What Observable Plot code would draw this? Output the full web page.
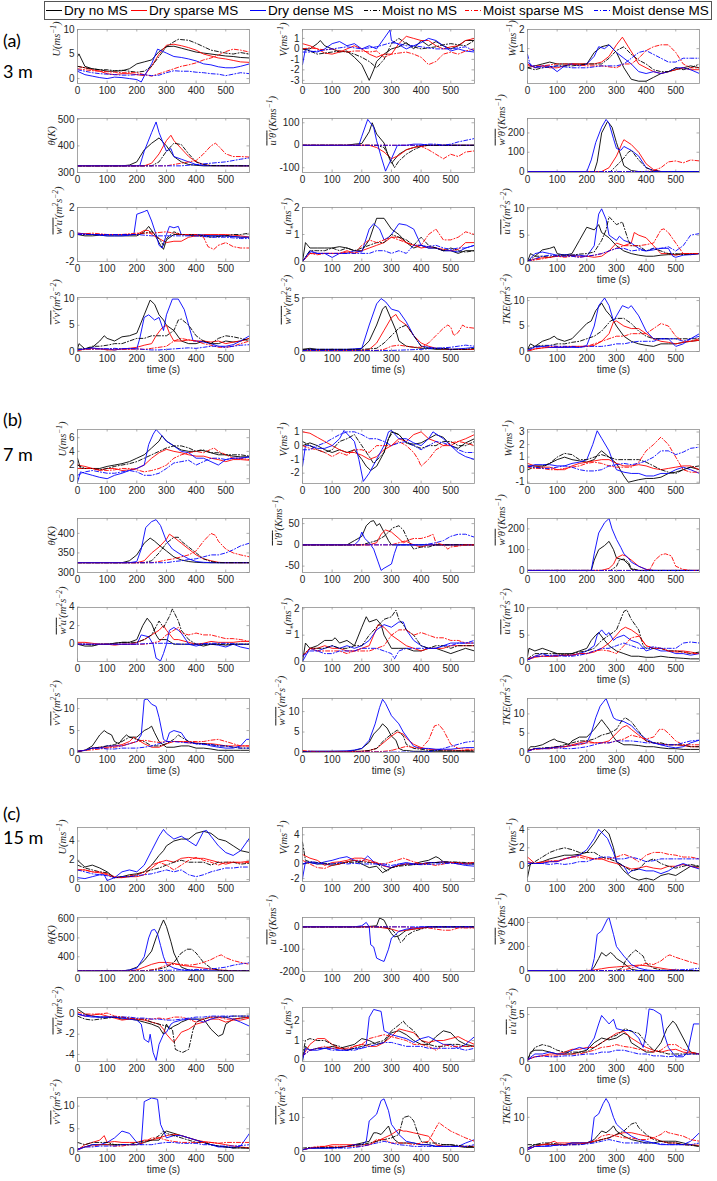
<!DOCTYPE html>
<html><head><meta charset="utf-8">
<script src="https://cdn.jsdelivr.net/npm/d3@7"></script>
<script src="https://cdn.jsdelivr.net/npm/@observablehq/plot@0.6"></script>
<style>
body{margin:0;background:#fff;}
#root{position:relative;width:717px;height:1181px;overflow:hidden;background:#fff;font-family:"Liberation Sans",Arial,sans-serif;}
.panel{position:absolute;}
.grp{position:absolute;left:3px;font-family:Lato,"Open Sans",sans-serif;font-size:18px;line-height:18px;color:#000;white-space:nowrap;}
#legend{position:absolute;left:44px;top:1px;width:668px;height:19px;border:1px solid #555;box-sizing:border-box;background:#fff;}
.li{position:absolute;top:0px;height:17px;font-size:13.5px;line-height:17px;white-space:nowrap;color:#000;}
.li svg{position:absolute;left:-18px;top:0;}
</style></head><body><div id="root"></div>
<script>
// ---------- series (order: Dry no MS, Dry sparse MS, Dry dense MS, Moist no MS, Moist sparse MS, Moist dense MS)
const seriesNames = ["Dry no MS","Dry sparse MS","Dry dense MS","Moist no MS","Moist sparse MS","Moist dense MS"];
const seriesColors = ["#000000","#ff0000","#0000ff","#000000","#ff0000","#0000ff"];
const seriesDash = [null,null,null,"4,2,1,2","4,2,1,2","4,2,1,2"];
const xTicks = [0,100,200,300,400,500];
const varLabels = ["U(ms^{-1})","V(ms^{-1})","W(ms^{-1})","θ(K)","[u'θ'](Kms^{-1})","[w'θ'](Kms^{-1})","[w'u'](m^2s^{-2})","u_*(ms^{-1})","[u'u'](m^2s^{-2})","[v'v'](m^2s^{-2})","[w'w'](m^2s^{-2})","TKE(m^2s^{-2})"];
const groupLetters = ["(a)","(b)","(c)"];
const groupHeights = ["3 m","7 m","15 m"];

// each series: flat list of time, value pairs
// ===== (a) 3 m =====
const a_U = [
 [0,4.5,5,5,25,2.5,50,2.0,75,1.8,100,1.5,125,1.5,150,1.6,175,2.0,200,3.0,225,3.4,250,3.8,275,5.5,300,6.5,325,6.6,350,6.2,375,5.8,400,5.4,425,5.2,450,5.0,475,4.8,500,4.6,525,4.5,550,4.3,580,4.2],
 [0,2.5,25,2.2,50,1.8,75,1.5,100,1.0,125,0.8,150,1.0,175,1.0,200,0.8,225,0.6,250,2.5,275,5.0,300,6.8,325,7.0,350,6.7,375,6.3,400,5.8,425,5.0,450,4.6,475,4.2,500,4.0,525,3.7,550,3.4,580,3.3],
 [0,1.5,25,0.8,50,0.5,75,0.2,100,0.0,125,0.3,150,0.2,175,0.0,200,-0.2,215,-0.7,225,0.5,250,3.0,270,6.0,300,5.2,325,4.5,350,4.3,375,4.0,400,3.6,425,3.0,450,2.8,475,2.4,500,2.2,525,2.2,550,2.5,580,3.0],
 [0,2.5,25,2.2,50,2.0,75,1.8,100,1.8,125,1.6,150,1.7,175,1.5,200,1.3,225,1.5,250,2.5,275,4.5,300,6.5,325,7.5,340,8.0,375,7.8,400,7.2,425,6.5,450,5.8,475,5.5,500,5.2,525,5.0,550,5.3,580,5.0],
 [0,2.0,25,1.8,50,1.6,75,1.5,100,1.4,125,1.3,150,1.2,175,1.2,200,1.2,225,0.8,250,0.5,275,1.0,300,1.5,325,2.0,350,2.5,375,2.8,400,3.2,425,3.8,450,4.2,475,4.8,500,5.5,525,6.0,550,5.8,580,5.4],
 [0,1.8,25,1.5,50,1.2,75,1.0,100,0.9,125,0.8,150,0.7,175,0.7,200,0.8,225,0.8,250,0.6,275,0.7,300,1.2,325,1.6,350,1.5,375,1.5,400,1.3,425,1.2,450,1.0,475,0.9,500,0.6,525,0.9,550,1.2,580,1.0]];
const a_V = [
 [0,0,25,0,50,0.5,60,0.8,75,0.3,100,0,125,-0.3,150,-0.2,175,-0.8,200,-1.5,225,-3.0,240,-2.0,250,-1.2,275,-0.5,300,0,325,0.2,350,0.6,375,0,400,0.8,425,0.3,450,0.7,475,0.3,500,0,525,0.3,550,0.8,580,0.8],
 [0,0.5,25,0.3,50,0,75,-0.4,100,-0.5,125,-0.3,150,0,175,0.3,200,0,225,-0.5,250,-0.8,275,-0.5,300,-0.5,325,0.5,350,1.2,375,1.0,400,0.8,425,0.8,450,0.3,475,0,500,0.2,525,0.3,550,0.8,580,1.0],
 [0,-1.5,10,0,25,-0.2,50,-0.3,75,0,100,0.5,125,0.7,150,0.3,175,0.5,200,0,225,0.3,250,0,275,1.0,295,1.8,300,0.8,325,0.4,350,0,375,0.3,400,0.6,425,1.0,450,0.8,475,0.3,500,-0.2,525,0,550,-0.2,580,-0.3],
 [0,0,25,-0.2,50,-0.5,75,-0.4,100,-0.3,125,-0.2,150,-0.3,175,-0.5,200,-0.8,225,-1.2,250,-1.8,275,-1.0,300,0.5,325,1.0,350,0.5,375,0.2,400,0,425,0.1,450,0.2,475,0.4,500,0.5,525,0.4,550,0.3,580,0.8],
 [0,0,25,0.1,50,0,75,-0.1,100,0,125,-0.2,150,-0.3,175,-0.2,200,-0.2,225,-0.3,250,-0.2,275,-0.8,300,-0.5,325,-0.4,350,-0.3,375,-0.5,400,-0.8,425,-1.5,450,-1.2,475,-0.5,500,-0.3,525,-0.5,550,-0.2,580,0],
 [0,-0.3,25,-0.3,50,-0.2,75,-0.1,100,0,125,0.1,150,0.2,175,0.1,200,0,225,0.1,250,0.2,275,0.4,300,0.6,325,0.5,350,0.3,375,0.3,400,0.2,425,0.1,450,0,475,0,500,0,525,0.1,550,0.2,580,-0.2]];
const a_W = [
 [0,0,25,0.1,50,0.2,75,0.3,100,0.2,125,0.2,150,0.2,175,0.2,200,0.2,225,0.8,250,1.1,275,1.2,300,0.8,325,0,350,-0.6,375,-0.7,400,-0.7,425,-0.5,450,-0.3,475,-0.2,500,-0.1,525,0,550,0.1,580,0],
 [0,0.2,25,0,50,0.1,75,0,100,0,125,0.1,150,0.2,175,0.2,200,0.2,225,0.2,250,0.3,275,0.6,300,1.2,320,1.6,340,1.1,360,0.6,375,0.2,400,0,425,-0.2,450,-0.3,475,-0.2,500,-0.1,525,0,550,-0.1,580,-0.1],
 [0,0.3,25,0,50,0.1,75,0.1,100,-0.2,125,0.1,150,0.2,175,0.1,200,0.2,225,0.6,240,1.1,260,1.0,275,1.2,300,0.8,325,0.5,350,0.2,375,-0.2,400,-0.3,425,-0.2,450,-0.3,475,-0.2,500,0,525,0,550,-0.1,580,-0.3],
 [0,0,25,-0.1,50,0,75,0.05,100,0.1,125,0.1,150,0.1,175,0.15,200,0.2,225,0.2,250,0.2,275,0.5,300,0.9,325,1.1,350,0.7,375,0.4,400,0.2,425,-0.1,450,-0.2,475,-0.2,500,0,525,-0.1,550,0,580,0.2],
 [0,0.1,25,0.1,50,0.1,75,0.15,100,0.2,125,0.2,150,0.2,175,0.15,200,0.1,225,0.1,250,0.1,275,0.05,300,0,325,0.2,350,0.2,375,0.5,400,0.9,425,1.1,450,1.2,475,1.2,500,0.8,525,0.2,550,0,580,0],
 [0,0.7,10,0.1,25,0.1,50,0,75,0.05,100,0.1,125,0.05,150,0,175,0,200,0,225,0.05,250,0.1,275,0.1,300,0.1,325,0.2,350,0.5,375,0.8,400,0.9,425,0.7,450,0.5,475,0.3,500,0.3,525,0.5,550,0.5,580,0.5]];
const a_T = [
 [0,325,150,325,175,328,200,340,225,385,250,410,275,430,300,400,325,360,350,340,375,330,400,327,425,325,580,325],
 [0,325,225,325,250,335,275,370,300,420,315,440,325,420,350,390,375,360,400,340,425,330,450,326,580,325],
 [0,325,210,325,225,380,250,450,265,490,275,450,300,380,315,390,325,360,350,350,375,340,400,330,425,326,580,325],
 [0,325,250,325,275,340,300,380,325,410,350,405,375,370,400,340,425,330,450,326,580,325],
 [0,325,300,325,325,330,350,335,375,340,400,345,425,370,450,400,465,410,475,400,500,370,525,360,550,360,580,358],
 [0,325,350,325,400,330,450,335,500,340,550,350,580,355]];
const a_UT = [
 [0,0,150,0,175,5,200,8,225,60,235,100,250,50,275,10,290,-50,300,-80,325,-40,350,-20,375,-10,400,0,580,0],
 [0,0,225,0,250,-10,275,-30,300,-60,325,-45,350,-20,375,-10,400,-5,425,0,580,0],
 [0,0,190,0,200,40,220,115,240,80,250,20,265,-50,280,-115,300,-60,320,0,350,0,375,5,400,5,425,0,580,0],
 [0,0,250,0,275,-10,300,-70,310,-100,325,-70,350,-40,375,-20,400,-5,425,0,580,0],
 [0,0,375,0,400,-5,425,-20,450,-40,475,-60,500,-40,525,-50,550,-30,580,-25],
 [0,0,400,0,425,5,450,5,475,0,500,5,525,15,580,30]];
const a_WT = [
 [0,0,225,0,235,50,250,200,270,260,285,230,300,150,315,80,325,30,350,5,375,0,580,0],
 [0,0,250,0,275,20,300,80,320,150,325,165,350,140,375,100,400,40,425,10,450,0,580,0],
 [0,0,200,0,215,60,230,150,250,230,265,270,275,250,290,170,300,120,315,110,325,130,350,110,375,80,400,20,425,5,450,0,580,0],
 [0,0,280,0,300,30,325,70,340,100,350,110,375,60,400,20,425,5,450,0,580,0],
 [0,0,400,0,425,5,450,20,475,50,500,55,525,45,550,60,580,55],
 [0,0,580,0]];
const a_WU = [
 [0,0,25,-0.1,50,-0.1,75,-0.05,100,-0.1,125,-0.1,150,-0.1,175,-0.1,200,-0.1,225,0.2,240,0.6,260,0,280,-0.8,290,-1.1,300,-0.4,325,0,350,0,375,-0.05,400,-0.1,425,-0.1,450,-0.1,475,-0.1,500,-0.1,525,-0.15,550,-0.2,580,-0.2],
 [0,0.1,25,0.05,50,0,75,0,100,0,125,0,150,0,175,0,200,0,225,0.3,240,0.3,250,0,275,-0.3,300,-0.6,325,-0.5,350,-0.5,375,-0.2,400,-0.1,425,0,450,0,475,0,500,0,525,-0.05,550,-0.1,580,-0.2],
 [0,0.1,25,0.05,50,0,75,-0.05,100,-0.1,125,-0.1,150,-0.1,175,-0.05,190,0,200,1.5,225,1.7,235,1.8,250,1.0,265,0,275,-0.8,285,-1.0,300,0,310,0.6,325,0.5,340,0.6,350,0,375,0,400,0,425,-0.05,450,-0.1,475,-0.1,500,-0.1,525,-0.15,550,-0.2,580,-0.2],
 [0,0,25,0,50,0,75,0,100,0,125,0,150,0,175,0,200,0,225,0.1,250,0.2,275,-0.3,290,-0.8,300,-0.3,325,0.2,350,0,375,0,400,0,425,-0.1,450,-0.2,475,-0.15,500,-0.1,525,0,550,0,580,0.1],
 [0,0,25,0.05,50,0.1,75,0.05,100,0,125,0,150,0,175,0.05,200,0.1,225,0.1,250,0.1,275,0.15,300,0.2,325,0.1,350,0,375,0,400,0,425,-0.2,440,-0.9,460,-1.1,475,-0.8,500,-0.6,525,-0.9,550,-1.0,580,-1.0],
 [0,0,50,0,100,0,150,0,200,0,250,-0.1,300,-0.1,350,-0.1,400,-0.1,450,-0.2,500,-0.2,550,-0.3,580,-0.3]];
const a_US = [
 [0,0,10,0.7,25,0.5,50,0.5,75,0.5,100,0.5,125,0.55,150,0.5,175,0.4,200,0.4,225,0.8,250,1.6,275,1.6,300,1.2,325,1.0,350,0.7,375,0.5,400,0.6,425,0.5,450,0.5,475,0.4,500,0.4,525,0.3,550,0.4,580,0.4],
 [0,0,25,0.3,50,0.3,75,0.3,100,0.3,125,0.3,150,0.4,175,0.3,200,0.4,225,0.5,250,0.6,275,0.7,300,0.9,325,0.9,350,0.7,375,0.6,400,0.5,425,0.55,450,0.5,475,0.45,500,0.4,525,0.45,550,0.7,580,0.7],
 [0,0,25,0.4,50,0.3,75,0.3,100,0.15,125,0.3,150,0.3,175,0.4,200,0.35,225,1.2,240,1.4,260,1.2,275,0.8,290,0.9,300,1.0,325,1.4,350,1.35,375,1.2,400,0.6,425,0.5,450,0.5,475,0.4,500,0.4,525,0.35,550,0.5,580,0.6],
 [0,0,25,0.4,50,0.4,75,0.4,100,0.5,125,0.4,150,0.5,175,0.4,200,0.5,225,0.6,250,0.7,275,0.7,300,1.0,325,0.9,350,0.8,375,0.6,400,0.9,425,0.6,450,0.5,475,0.4,500,0.5,525,0.4,550,0.35,580,0.4],
 [0,0,25,0.3,50,0.25,75,0.3,100,0.3,125,0.3,150,0.35,175,0.3,200,0.6,225,0.8,250,0.7,275,0.8,300,0.9,325,0.8,350,0.7,375,0.6,400,0.6,425,1.0,450,1.2,475,0.8,500,0.8,525,0.9,550,1.1,580,1.0],
 [0,0,25,0.35,50,0.3,75,0.3,100,0.3,125,0.3,150,0.3,175,0.3,200,0.3,225,0.3,250,0.4,275,0.4,300,0.3,325,0.4,350,0.3,375,0.6,400,0.6,425,0.55,450,0.6,475,0.5,500,0.45,525,0.5,550,0.5,580,0.6]];
const a_UU = [
 [0,0,10,1.5,25,1.0,50,2.2,75,2.5,90,2.8,100,1.5,125,1.2,150,1.5,175,4.0,200,6.5,225,6.0,240,7.0,250,5.5,275,4.5,300,3.0,325,2.0,350,1.5,375,1.2,400,1.0,425,1.0,450,1.2,475,1.3,500,1.3,525,1.5,550,1.3,580,1.5],
 [0,0,25,0.5,50,0.7,75,0.8,100,1.0,125,1.0,150,1.2,175,1.0,200,1.0,225,0.8,250,1.0,275,2.0,300,3.5,325,3.0,350,3.5,360,5.5,375,5.0,400,4.5,425,3.0,450,1.5,475,1.5,500,1.2,525,1.5,550,1.5,580,1.5],
 [0,0,25,1.5,50,1.8,75,1.5,100,1.2,125,1.3,150,1.2,175,1.2,200,1.0,225,3.0,240,9.0,250,10.0,265,8.0,275,5.0,300,4.0,310,4.8,325,4.0,350,3.5,375,2.5,400,2.0,425,2.2,450,2.5,475,2.5,490,1.0,500,0.8,525,1.2,550,1.3,580,1.5],
 [0,0,25,1.0,50,1.0,75,0.8,100,1.2,125,1.2,150,1.2,175,1.4,200,1.5,225,1.8,250,4.0,265,6.0,275,8.5,300,7.0,320,7.5,340,4.0,350,3.0,375,3.0,400,2.0,425,2.5,450,2.0,475,1.5,500,1.5,525,1.3,550,1.5,580,1.5],
 [0,0,25,0.3,50,0.5,75,0.8,100,1.0,125,0.8,150,1.0,175,0.8,200,1.0,225,1.2,250,1.5,275,2.0,300,2.5,325,3.0,350,3.0,375,3.0,400,3.2,425,3.5,450,6.0,460,6.2,475,5.5,500,3.5,525,1.5,550,1.5,580,1.5],
 [0,0,25,0.5,50,1.0,75,1.2,100,1.0,125,1.0,150,1.0,175,0.8,200,1.0,225,1.2,250,1.5,275,2.0,300,2.5,325,2.5,350,2.0,375,2.2,400,2.0,425,2.5,450,2.5,475,2.8,500,2.0,525,3.0,550,5.0,580,5.3]];
const a_VV = [
 [0,0.5,5,1.5,25,0.5,50,0.8,75,2.0,90,3.0,100,2.5,125,2.0,150,2.8,175,3.0,200,3.5,225,7.0,245,9.8,260,9.0,275,7.0,290,6.0,300,5.0,325,4.0,350,2.0,375,1.5,400,1.5,425,2.0,450,1.5,475,1.5,500,2.0,525,1.8,550,2.0,580,2.5],
 [0,0.2,25,0.5,50,0.6,75,0.5,100,0.3,125,0.3,150,0.5,175,0.6,200,0.8,225,1.2,250,1.5,265,3.0,285,4.5,300,5.0,310,3.5,325,2.0,350,2.0,375,2.2,400,2.0,425,2.0,450,1.8,475,2.0,500,1.5,525,1.8,550,2.0,580,2.5],
 [0,0.3,25,0.5,50,0.7,75,0.5,100,0.5,125,0.3,150,0.5,175,0.5,200,0.5,210,2.5,225,6.5,240,7.0,260,6.0,275,6.5,290,4.0,300,7.0,320,10.0,340,10.0,360,8.0,375,5.0,390,2.0,400,2.0,425,1.8,450,1.5,475,1.0,500,1.0,525,1.3,550,2.0,580,3.0],
 [0,0.5,25,0.5,50,1.0,75,1.0,100,1.2,125,1.5,150,1.5,175,2.0,200,2.5,225,2.5,250,3.0,275,3.0,300,3.0,325,4.0,340,6.0,350,6.2,375,5.0,400,3.0,425,2.0,450,1.5,475,2.5,500,3.0,525,2.8,550,2.5,580,2.0],
 [0,0.2,25,0.4,50,0.4,75,0.5,100,0.4,125,0.5,150,0.4,175,0.4,200,0.5,225,0.4,250,0.6,275,0.8,300,1.0,325,2.0,350,2.5,375,2.2,400,2.0,425,1.5,450,1.2,475,0.8,500,0.8,525,1.0,550,1.5,580,2.0],
 [0,0.3,25,0.5,50,0.5,75,0.5,100,0.5,125,0.6,150,0.5,175,0.6,200,0.5,225,0.4,250,0.3,275,0.3,300,0.4,325,0.5,350,0.6,375,0.7,400,0.6,425,0.8,450,1.0,475,1.0,500,0.8,525,1.0,550,1.2,580,1.3]];
const a_WW = [
 [0,0.2,25,0.3,50,0.2,100,0.2,150,0.2,175,0.2,200,0.3,225,1.0,250,2.5,270,4.0,280,4.3,300,3.0,315,2.0,325,1.0,350,0.5,375,0.4,400,0.3,425,0.3,450,0.2,500,0.2,550,0.2,580,0.2],
 [0,0.1,50,0.1,100,0.1,150,0.1,200,0.1,225,0.2,250,0.8,275,2.0,300,3.2,315,3.5,325,3.0,350,2.5,375,1.5,400,0.8,425,0.5,450,0.3,500,0.2,550,0.2,580,0.2],
 [0,0.1,25,0.2,50,0.2,100,0.2,150,0.2,175,0.25,200,0.3,225,2.5,250,4.5,265,5.0,280,4.7,300,4.0,325,3.8,350,2.8,375,1.5,400,0.5,425,0.4,450,0.3,475,0.3,500,0.2,550,0.3,580,0.4],
 [0,0.2,50,0.2,100,0.2,150,0.2,200,0.2,250,0.3,275,0.8,300,1.5,325,2.2,350,2.5,375,1.5,400,0.5,425,0.3,450,0.3,475,0.3,500,0.2,550,0.2,580,0.3],
 [0,0.1,50,0.1,100,0.1,150,0.1,200,0.1,250,0.1,275,0.2,300,0.5,325,0.6,350,0.5,375,0.4,400,0.4,425,0.8,450,1.5,475,2.2,490,2.5,500,2.3,510,1.5,525,1.8,540,2.5,550,2.3,580,2.2],
 [0,0.1,100,0.1,200,0.1,300,0.1,400,0.2,450,0.3,500,0.4,525,0.5,550,0.6,580,0.5]];
const a_TKE = [
 [0,0.5,10,1.5,25,1.0,50,2.0,75,2.5,90,3.0,100,2.5,125,2.0,150,2.5,175,4.0,200,5.5,215,6.0,230,8.0,250,9.5,265,8.0,280,7.0,300,5.0,325,3.0,350,2.0,375,1.5,400,1.2,425,1.0,450,1.5,475,1.5,500,1.5,525,1.8,550,2.0,580,2.2],
 [0,0,25,0.5,50,0.7,75,0.8,100,0.8,125,0.8,150,1.0,175,1.0,200,1.0,225,1.2,250,2.0,275,3.5,290,5.8,300,6.0,325,5.0,350,4.5,375,4.5,400,3.5,425,2.5,450,2.0,475,1.8,500,1.5,525,1.8,550,2.0,580,2.2],
 [0,0,25,1.0,50,1.0,75,0.8,100,0.8,125,0.8,150,0.8,175,0.8,200,1.2,225,5.0,240,9.0,260,10.5,275,9.0,290,6.0,300,7.0,320,9.0,340,8.5,350,9.0,375,7.0,400,4.0,425,2.5,450,2.5,475,2.5,500,1.0,525,1.5,550,2.5,580,3.5],
 [0,0.5,25,1.0,50,1.2,75,1.2,100,1.5,125,1.5,150,1.8,175,2.0,200,2.5,225,3.0,250,4.0,265,5.0,280,6.0,300,6.5,325,6.5,350,5.5,375,4.0,400,3.0,425,2.5,450,2.5,475,2.5,500,2.5,525,2.5,550,2.5,580,2.5],
 [0,0.2,25,0.5,50,0.7,75,1.0,100,1.0,125,1.0,150,1.0,175,1.0,200,1.0,225,1.5,250,2.0,275,2.5,300,3.0,325,3.0,350,3.5,375,3.5,400,3.5,425,4.5,450,5.5,475,5.0,500,3.0,525,2.0,550,2.0,580,2.5],
 [0,0.3,25,0.8,50,1.0,75,1.2,100,1.0,125,1.0,150,1.0,175,0.8,200,1.0,225,1.0,250,1.0,275,1.2,300,1.5,325,1.5,350,1.8,375,2.0,400,2.0,425,2.0,450,2.5,475,2.5,500,2.5,525,2.0,550,2.5,580,3.0]];

// ===== (b) 7 m =====
const b_U = [
 [0,3.0,10,1.5,25,1.5,50,1.5,75,1.5,100,1.8,125,2.0,150,2.2,175,2.5,200,3.0,225,3.5,250,4.5,275,5.5,285,6.3,300,5.5,325,4.8,350,4.2,375,4.0,400,4.0,415,4.2,450,3.8,475,3.5,500,3.5,525,3.3,550,3.2,580,3.2],
 [0,2.0,25,1.8,50,1.5,75,1.2,100,1.5,125,1.5,150,1.2,175,1.3,200,1.5,225,2.0,250,3.0,275,3.8,300,4.3,325,4.0,350,3.8,375,3.5,400,3.3,425,3.3,450,3.0,475,2.8,500,2.5,525,2.8,550,2.8,580,2.7],
 [0,-0.5,10,1.0,25,0.8,50,0.5,75,0.2,100,0.0,125,0.5,150,0.8,175,1.2,200,1.5,225,2.0,240,5.0,255,6.5,265,7.2,280,6.5,300,5.5,325,4.8,350,4.0,375,3.8,400,3.0,425,3.0,450,2.5,475,2.0,500,2.8,525,3.0,550,3.0,580,3.2],
 [0,2.0,25,1.5,50,1.5,75,1.3,100,1.5,125,1.8,150,2.0,175,2.2,200,2.5,225,3.0,250,3.5,275,4.0,300,4.5,325,4.8,350,4.8,375,4.5,400,4.0,425,4.2,450,3.8,475,3.8,500,3.5,525,3.5,550,3.5,580,3.3],
 [0,1.5,25,1.5,50,1.5,75,1.3,100,1.2,125,1.3,150,1.5,175,1.5,200,1.3,225,1.0,250,1.2,275,1.5,300,2.0,325,3.0,350,3.5,375,3.8,400,4.0,425,3.8,450,4.3,460,4.5,475,4.0,500,3.5,525,3.0,550,3.0,580,2.8],
 [0,0.5,25,1.0,50,1.2,75,1.0,100,0.8,125,0.8,150,1.0,175,1.2,200,1.0,225,0.5,250,0.5,275,0.8,300,1.5,325,2.3,350,2.5,375,2.7,400,2.0,425,2.5,450,3.0,475,3.0,500,2.8,525,3.0,550,3.0,580,3.2]];
const b_V = [
 [0,0,25,0.2,50,0,75,-0.3,100,-0.5,125,-0.3,150,-0.5,175,-0.3,200,-1.0,215,-1.5,230,-1.8,250,-1.5,275,-0.5,290,0.5,300,1.0,325,0.8,350,0.2,375,0.1,400,0.2,425,0.5,450,0.8,475,0.6,500,0,525,-0.2,550,0.2,580,0.5],
 [0,1.0,25,0.9,50,0.6,75,0.3,100,0,125,-0.3,150,-0.5,175,-0.5,200,-0.7,225,-1.0,250,-0.8,275,-0.3,300,0,325,0.5,350,0.3,375,0.8,400,1.0,425,0.5,450,0.3,475,0,500,0,525,0.3,550,0.5,580,0.8],
 [0,-1.5,10,0,25,0,50,-0.2,75,-0.2,100,0,125,0.5,140,1.1,175,0.3,190,-1.0,205,-2.6,225,-2.0,250,-1.0,275,0,290,1.0,300,1.1,325,0.5,350,0.5,375,0.2,400,0,425,0.5,440,1.0,475,0.5,500,0,525,-0.5,550,-0.8,580,-1.0],
 [0,0.3,25,0,50,-0.3,75,-0.5,100,-0.3,125,0.3,150,0.5,175,0.8,200,0,225,-0.8,240,-1.3,275,-0.5,290,0.5,305,1.0,325,0.8,350,0.2,375,0,400,-0.2,425,0,450,0,475,0.3,500,0.3,525,0,550,0,580,0.3],
 [0,0,25,-0.2,50,-0.3,75,-0.5,100,-0.8,125,-0.5,150,-0.7,175,-0.3,200,-0.3,225,-0.5,250,0,275,0,300,0,325,0.3,350,0,375,-0.5,390,-1.0,400,-1.5,425,-1.0,450,-0.3,475,0,500,0.2,525,0.3,550,0.2,580,0],
 [0,-0.3,25,-0.3,50,0,75,0.2,100,0.5,125,0.8,150,1.0,175,1.0,200,0.8,225,0.5,250,0.5,275,0.3,300,0,325,0.2,350,0.3,375,0,400,-0.3,425,0,450,0.3,475,0.2,500,0,525,-0.3,550,-0.5,580,-0.5]];
const b_W = [
 [0,0.3,25,0.3,50,0.3,75,0.5,100,0.8,125,1.0,150,0.8,175,0.7,200,0.6,225,0.8,240,1.3,250,1.5,275,1.0,300,0.5,325,-0.5,340,-1.0,375,-0.8,400,-0.7,425,-0.7,450,-0.6,475,-0.3,500,-0.2,525,0,550,0.2,580,0],
 [0,0.5,25,0.3,50,0.2,75,0.2,100,0,125,0,150,0.3,175,0.5,200,0.6,225,0.7,250,0.8,275,0.8,300,0.5,325,0.3,350,0.3,375,0.4,400,0.3,425,0.1,450,0,475,0.1,500,0.2,525,0.3,550,0.3,580,0],
 [0,0.2,25,0.4,50,0.4,75,0.4,100,0.3,125,0.3,150,0.5,175,0.6,200,0.8,220,2.0,235,3.1,250,2.5,275,1.5,290,0.5,300,0,325,-0.2,350,-0.3,375,-0.3,400,-0.5,425,-0.5,450,-0.3,475,-0.3,500,0,525,0.2,550,0,580,-0.3],
 [0,0,25,0.2,50,0.2,75,0.5,100,1.0,125,1.3,150,1.2,175,0.8,200,0.8,225,1.0,250,1.2,275,1.0,300,0.8,325,0.8,350,0.8,375,0.8,400,0.6,425,0.3,450,0,475,-0.2,500,-0.3,525,0,550,0.2,580,0.3],
 [0,0.2,25,0.1,50,0.1,75,0,100,0,125,0.1,150,0.2,175,0.3,200,0.5,225,0.6,250,0.5,275,0.3,300,0.2,325,0.2,350,0.2,375,0.6,400,1.5,425,2.0,450,2.6,475,2.0,500,1.0,525,0,550,-0.2,580,-0.2],
 [0,0.3,25,0.2,50,0.1,75,0.1,100,0.2,125,0.3,150,0.2,175,0,200,-0.1,225,-0.1,250,0,275,0.3,300,0.4,325,0.5,350,0.4,375,0.5,400,0.7,425,1.0,450,1.5,475,1.5,500,1.2,525,1.4,550,1.7,580,1.8]];
const b_T = [
 [0,325,150,325,175,330,200,345,225,375,245,388,260,380,275,370,300,355,325,340,350,332,375,328,400,326,425,325,580,325],
 [0,325,200,325,225,330,250,350,275,365,300,385,310,398,325,390,350,375,375,360,400,345,425,335,450,330,475,326,500,325,580,325],
 [0,325,175,325,200,328,215,360,230,415,250,430,265,435,280,420,300,380,320,360,350,345,375,335,400,328,425,326,450,325,580,325],
 [0,325,225,325,250,330,275,350,300,375,325,390,340,390,350,380,375,365,400,350,425,335,450,328,475,325,580,325],
 [0,325,250,325,275,328,300,332,325,335,350,340,375,345,400,355,425,380,450,400,465,395,475,380,500,360,525,350,550,345,580,340],
 [0,325,300,325,325,328,350,330,375,333,400,335,425,340,450,345,475,345,500,350,525,358,550,368,580,375]];
const b_UT = [
 [0,0,150,0,175,10,200,20,215,45,230,55,240,57,250,45,260,50,275,30,290,10,300,0,580,0],
 [0,0,225,0,250,5,265,25,280,35,300,30,325,15,340,5,350,8,375,0,400,-5,425,0,580,0],
 [0,0,175,0,190,10,200,30,210,15,225,5,240,-10,255,-40,265,-60,275,-55,300,-45,310,-20,320,0,580,0],
 [0,0,200,0,225,5,250,10,275,20,290,30,305,40,325,45,340,35,350,20,365,0,375,-10,400,-5,425,-5,450,0,580,0],
 [0,0,300,0,325,5,350,10,375,15,400,15,425,20,440,25,450,5,475,0,490,-10,500,-5,525,-3,550,0,580,0],
 [0,0,400,0,425,2,450,5,475,10,500,20,525,25,550,25,580,18]];
const b_WT = [
 [0,0,215,0,225,50,240,100,260,120,275,140,290,100,300,60,325,50,340,30,350,5,375,0,580,0],
 [0,0,250,0,275,10,290,30,300,60,320,75,330,70,350,50,375,20,400,5,425,0,580,0],
 [0,0,215,0,225,80,240,180,260,230,275,250,285,200,300,150,315,110,325,80,340,60,350,40,375,20,400,5,425,0,580,0],
 [0,0,280,0,300,20,310,50,325,55,340,40,350,10,375,0,580,0],
 [0,0,400,0,415,10,430,50,450,75,465,80,485,70,500,20,525,5,550,0,580,0],
 [0,0,580,0]];
const b_WU = [
 [0,0,25,-0.2,50,-0.2,75,0,100,0,125,0.1,150,0.2,175,0.2,200,0.5,220,2.0,235,2.8,250,2.2,265,1.0,275,0.5,300,0.5,325,0,350,0,375,0,400,0,425,-0.2,450,0,475,0,500,-0.1,525,0,550,0,580,0],
 [0,0.2,25,0.2,50,0.1,75,0,100,0,125,-0.1,150,0,175,0,200,0.2,225,0.5,250,1.0,275,1.5,290,2.0,300,1.5,325,0.5,340,0.5,375,0.2,400,0,425,0.1,450,0.3,475,0.2,500,0.2,525,0.2,550,0.3,580,0.3],
 [0,0,25,0,50,0,75,0,100,0,150,0,175,0,200,0,215,1.0,240,0.8,255,0,265,-1.5,280,-1.8,290,-1.0,300,0,310,1.5,325,1.8,340,1.5,350,1.2,365,0.5,375,0,400,-0.2,425,0,450,0,475,-0.1,500,-0.3,525,0,550,-0.3,580,-0.5],
 [0,0,25,0,50,-0.1,75,0,100,0,125,0.1,150,0.2,175,0.2,200,0.2,225,0.5,250,1.0,275,2.5,290,1.8,310,3.0,320,3.8,340,2.5,350,1.5,375,0.5,400,0,425,0,450,0,500,0,550,0,580,0],
 [0,0,50,0,100,0,150,0,200,0,225,0,250,0.1,275,0.3,300,1.0,325,1.5,340,1.8,350,1.2,375,1.0,400,1.2,425,1.0,450,1.0,475,0.8,500,0.6,525,0.6,550,0.5,580,0.3],
 [0,0,50,0,100,0,150,0,200,0,250,0.1,300,0.1,350,0,400,0,450,0.1,500,0.1,550,0,580,0]];
const b_US = [
 [0,0,10,0.7,25,0.5,50,0.6,75,0.8,100,0.8,110,0.9,125,0.7,150,0.8,175,0.6,200,1.3,215,1.7,225,1.5,250,1.6,265,1.4,275,1.0,300,0.5,325,0.5,350,0.5,375,0.4,400,0.4,425,0.5,450,0.5,475,0.4,500,0.3,525,0.4,550,0.5,580,0.4],
 [0,0.2,25,0.5,50,0.5,75,0.6,100,0.5,125,0.5,150,0.4,175,0.4,200,0.5,225,0.6,240,1.0,255,1.4,275,1.3,300,1.0,325,0.8,350,0.6,375,0.5,400,0.4,425,0.5,450,0.5,475,0.5,500,0.6,525,0.6,550,0.6,580,0.6],
 [0,0,25,0.5,50,0.4,75,0.5,100,0.6,125,0.5,150,0.6,175,0.5,200,0.6,225,0.8,250,1.2,275,1.4,300,1.3,325,1.5,340,1.5,350,1.2,375,0.8,400,0.6,425,0.5,450,0.5,475,0.6,500,0.7,525,0.7,550,0.7,580,0.7],
 [0,0.2,25,0.5,50,0.5,75,0.5,100,0.6,125,0.5,150,0.5,175,0.6,200,0.6,225,1.0,250,1.3,275,1.6,300,1.7,315,1.95,325,1.6,340,1.4,350,1.2,375,1.0,400,0.6,425,0.5,450,0.6,475,0.6,500,0.5,525,0.6,550,0.6,580,0.6],
 [0,0.2,25,0.5,50,0.4,75,0.4,100,0.4,125,0.4,150,0.3,175,0.4,200,0.4,225,0.4,250,0.5,275,0.6,300,1.0,325,1.2,350,1.2,375,1.0,400,1.1,425,1.0,450,0.9,475,0.9,500,0.8,525,0.8,550,0.7,580,0.7],
 [0,0.2,25,0.4,50,0.4,75,0.3,100,0.3,125,0.4,150,0.4,175,0.4,200,0.5,225,0.5,250,0.5,275,0.4,300,0.3,310,0.1,325,0.4,350,0.5,375,0.5,400,0.5,425,0.5,450,0.5,475,0.6,500,0.6,525,0.7,550,0.7,580,0.8]];
const b_UU = [
 [0,1.0,5,2.5,25,2.0,50,2.5,75,2.0,100,1.5,125,1.5,150,1.5,175,2.0,200,2.5,215,4.0,230,5.0,240,5.5,260,4.0,275,3.0,300,2.0,325,1.5,350,1.0,375,1.0,400,0.8,425,0.8,450,1.0,475,0.8,500,0.7,525,0.6,550,0.5,580,0.5],
 [0,0.3,25,0.8,50,1.0,75,1.0,100,1.2,125,1.2,150,1.2,175,1.5,200,1.5,225,1.8,250,2.5,275,3.5,300,5.0,315,6.0,330,6.5,350,6.0,375,5.0,400,3.0,425,2.5,450,2.5,475,2.0,500,2.0,525,2.0,550,1.8,580,1.5],
 [0,0.3,25,1.0,50,1.5,75,1.0,100,1.0,125,1.2,150,1.2,175,1.5,200,2.0,225,3.0,235,5.0,250,6.0,265,5.0,275,5.5,290,4.0,300,4.5,325,5.0,350,4.0,375,3.5,400,2.0,425,2.5,450,2.0,475,2.0,500,1.5,525,1.5,550,1.2,580,1.5],
 [0,0.5,25,1.5,50,1.5,75,1.5,100,1.5,125,1.2,150,1.5,175,1.8,200,2.0,225,2.5,250,4.0,275,5.0,300,6.0,325,9.5,335,9.8,350,8.0,375,6.0,390,3.0,400,2.5,425,2.5,450,2.5,475,2.0,500,2.0,525,1.8,550,1.5,580,1.8],
 [0,0.5,25,1.0,50,1.0,75,1.0,100,1.0,125,1.2,150,1.2,175,1.5,200,1.5,225,2.0,250,2.2,275,2.0,300,1.5,325,3.0,350,4.5,375,4.8,400,3.0,425,2.5,450,2.5,475,2.0,500,1.8,525,1.8,550,1.5,580,1.5],
 [0,0.3,25,1.0,50,1.0,75,1.2,100,1.2,125,1.0,150,1.0,175,1.2,200,1.5,225,2.0,250,2.5,275,2.5,300,3.0,325,3.5,350,3.0,375,2.5,400,2.5,425,2.8,450,2.5,475,2.5,500,2.5,525,3.5,550,3.7,580,3.5]];
const b_VV = [
 [0,0.3,25,0.5,50,1.5,75,4.0,90,5.0,100,4.5,115,4.0,125,2.5,140,2.0,150,3.0,165,4.0,175,3.5,200,3.5,225,5.0,240,5.5,250,6.0,260,4.5,275,2.5,300,1.2,325,1.2,350,1.5,375,1.5,400,1.0,425,1.0,450,0.8,475,0.5,500,0.5,525,0.5,550,0.5,580,0.5],
 [0,0.2,25,0.5,50,1.0,75,1.2,100,1.2,125,1.5,150,1.8,175,2.5,190,3.5,200,3.0,225,2.0,250,1.2,275,1.2,300,2.0,325,2.5,350,2.5,375,2.2,400,2.2,425,2.0,450,2.0,475,1.8,500,1.5,525,1.5,550,1.5,580,1.5],
 [0,0.2,25,0.5,50,1.0,75,1.0,100,1.5,125,1.5,150,1.5,175,2.0,200,2.5,215,4.0,225,12.0,235,12.2,250,11.0,265,10.5,275,8.0,290,3.0,300,2.5,310,4.5,325,5.0,350,4.5,365,3.0,375,2.5,400,2.0,425,2.0,450,1.5,475,1.2,500,1.0,525,1.0,550,1.5,570,3.0,580,3.0],
 [0,0.2,25,0.5,50,1.0,75,1.2,100,1.5,125,1.8,150,2.5,175,3.5,200,3.0,225,2.5,250,1.5,275,1.5,300,2.0,325,3.0,340,4.0,350,3.5,375,2.5,400,2.0,425,2.0,450,1.8,475,1.5,500,1.5,525,1.2,550,1.0,580,1.0],
 [0,0.3,25,0.5,50,0.6,75,0.8,100,1.0,125,1.2,150,1.5,175,2.0,200,2.5,225,2.8,250,2.5,275,2.3,300,2.5,325,2.5,350,2.5,375,2.5,400,2.5,425,2.5,450,2.8,475,3.0,500,2.5,525,2.0,550,1.5,580,1.5],
 [0,0.3,25,0.5,50,1.0,75,1.0,100,0.8,125,0.8,150,1.0,175,1.0,200,1.0,225,1.2,250,1.5,275,2.0,300,2.5,325,2.5,350,2.3,375,2.2,400,2.0,425,1.8,450,1.8,475,1.5,500,1.5,525,1.2,550,1.0,580,1.0]];
const b_WW = [
 [0,0.2,25,0.3,50,0.3,100,0.3,150,0.3,175,0.5,200,1.0,225,2.5,240,4.5,260,6.0,270,7.0,285,6.0,300,4.0,315,3.0,325,1.0,340,0.5,350,0.5,375,0.3,400,0.3,450,0.3,500,0.3,550,0.3,580,0.3],
 [0,0.2,50,0.2,100,0.2,150,0.2,200,0.3,225,0.5,250,1.0,275,2.5,300,4.0,320,5.0,340,4.5,350,3.5,375,2.0,400,1.2,425,0.8,450,0.7,475,0.6,500,0.6,525,0.5,550,0.5,580,0.6],
 [0,0.2,25,0.3,50,0.3,100,0.3,150,0.4,175,0.6,200,1.0,225,3.0,245,7.0,260,11.0,270,13.0,280,12.0,300,9.0,325,7.0,340,5.0,360,3.0,375,1.5,400,1.0,425,1.0,450,0.8,475,0.8,500,0.8,525,1.0,550,1.2,580,1.2],
 [0,0.2,50,0.2,100,0.2,150,0.2,200,0.3,225,0.5,250,1.0,275,3.0,300,4.5,320,5.5,340,4.0,350,2.0,375,1.0,400,0.8,425,0.5,450,0.5,475,0.4,500,0.4,525,0.4,550,0.4,580,0.4],
 [0,0.5,25,0.3,50,0.2,100,0.2,150,0.2,200,0.2,250,0.2,275,0.3,300,0.5,325,1.0,350,1.5,375,1.2,400,1.0,425,3.0,445,6.5,460,6.8,475,5.5,500,2.0,525,1.0,550,0.8,580,0.8],
 [0,0.1,100,0.1,200,0.1,300,0.1,400,0.1,425,0.2,450,0.5,475,1.0,500,1.5,525,2.0,550,2.5,580,2.8]];
const b_TKE = [
 [0,0.5,10,1.5,25,1.5,50,2.0,75,3.0,90,3.5,100,3.0,125,2.5,140,2.0,150,3.0,175,4.0,200,4.0,225,6.0,245,8.0,250,8.5,265,7.0,275,6.0,290,4.0,300,3.0,325,2.0,350,2.0,375,1.8,400,1.5,425,1.5,450,1.2,475,1.0,500,1.0,525,0.8,550,0.8,580,0.8],
 [0,0.5,25,1.0,50,1.0,75,1.2,100,1.5,125,1.5,150,2.0,175,2.5,200,3.0,225,2.5,250,2.5,275,3.0,300,5.0,320,6.5,335,7.0,350,6.0,375,4.5,400,3.0,425,2.5,450,2.2,475,2.0,500,2.0,525,1.8,550,1.5,580,1.5],
 [0,0.3,25,1.0,50,1.0,75,1.0,100,1.5,125,1.5,150,1.8,175,2.2,200,2.5,215,5.0,230,9.0,245,12.0,255,13.0,265,14.0,280,11.0,290,9.0,300,8.5,325,8.0,350,7.0,375,5.0,400,3.5,425,2.5,450,2.0,475,1.5,500,1.2,525,1.5,550,2.5,580,3.2],
 [0,0.5,25,1.0,50,1.2,75,1.3,100,1.5,125,2.0,150,2.5,175,3.0,200,3.0,225,3.5,250,4.5,275,5.0,300,6.0,320,8.5,330,9.0,350,8.0,375,5.5,400,3.0,425,2.5,450,2.5,475,2.0,500,2.0,525,2.0,550,1.5,580,1.5],
 [0,0.5,25,0.8,50,1.0,75,1.0,100,1.2,125,1.5,150,1.8,175,2.0,200,2.5,225,2.5,250,2.5,275,2.5,300,3.0,325,3.5,350,4.5,375,4.0,400,3.5,425,4.0,445,6.0,460,6.0,475,5.0,500,3.0,525,2.0,550,2.0,580,2.0],
 [0,0.3,25,1.0,50,1.0,75,1.2,100,1.2,125,1.0,150,1.0,175,1.2,200,1.5,225,2.0,250,2.5,275,2.5,300,3.0,325,3.0,350,3.0,375,2.8,400,2.5,425,2.5,450,2.0,475,2.0,500,2.0,525,2.5,550,3.0,580,3.2]];

// ===== (c) 15 m =====
const c_U = [
 [0,2.0,25,1.3,50,1.5,75,1.2,100,0.8,125,0.2,150,0.3,175,0.5,200,0.6,225,0.8,250,1.5,275,2.5,290,3.0,300,3.5,325,4.0,350,4.2,375,4.2,400,4.8,425,5.0,450,4.8,475,4.2,500,4.0,525,3.5,550,3.0,580,2.8],
 [0,1.0,25,1.0,50,0.8,75,0.7,100,0.5,125,0.2,150,0.2,175,0.3,200,0.3,225,0.5,250,1.2,275,1.8,300,2.0,325,1.8,350,2.2,375,2.3,400,2.2,425,2.2,450,2.0,475,1.8,500,1.6,525,1.8,550,1.8,580,1.9],
 [0,0.2,25,0.1,50,0.3,75,0.5,90,0.5,100,-0.1,125,0.2,150,0.8,175,1.0,200,0.8,225,1.5,250,3.0,275,4.5,290,5.2,300,4.8,325,4.2,350,4.5,375,4.0,400,3.5,425,5.0,435,5.1,450,4.5,475,3.5,500,2.8,525,2.5,550,3.0,580,4.3],
 [0,1.5,25,1.2,50,1.0,75,0.8,100,0.7,125,0.2,150,0.3,175,0.3,200,0.5,225,0.8,250,1.0,275,1.2,300,1.5,325,1.8,350,2.0,375,1.8,400,1.8,425,1.8,450,1.5,475,1.8,500,1.8,525,1.8,550,1.6,580,1.7],
 [0,1.0,25,1.0,50,0.8,75,0.8,100,0.6,125,0.3,150,0.2,175,0.4,200,0.5,225,0.8,250,1.5,275,1.8,300,1.5,325,1.0,350,1.5,375,2.0,400,2.3,425,2.0,450,1.8,475,1.5,500,1.8,525,1.8,550,1.7,580,1.8],
 [0,1.0,25,0.8,50,0.6,75,0.5,100,0.4,125,0.2,150,0.3,175,0.3,200,0.4,225,0.5,250,0.6,275,0.8,300,1.0,325,0.8,350,1.0,375,0.5,400,0.3,425,0.5,450,0.8,475,1.0,500,1.2,525,1.2,550,1.3,580,1.3]];
const c_V = [
 [0,0,25,0.2,50,0,75,0,100,-0.2,125,0,150,0.3,175,0.5,200,0,225,-0.5,250,-0.3,270,-1.2,300,-0.5,325,-0.2,350,0,375,0,400,0.3,425,0.5,450,1.0,460,0.8,475,0.3,500,0.2,525,0.2,550,0,580,0],
 [0,1.3,25,0.8,50,0.5,75,-0.2,100,0.2,125,0.3,150,0.5,175,0.8,200,0.8,225,0.5,250,0.2,275,-0.3,300,-0.5,325,-0.2,350,0,375,0,400,0,425,0.2,450,0.2,475,0.3,500,0.2,525,0,550,0.1,580,0.2],
 [0,-2.0,10,0.3,25,0.2,50,0,75,0.3,100,0.5,125,0.8,150,1.0,175,0.5,200,0.3,220,1.1,240,0.3,250,0,275,-0.2,300,-0.5,325,0,350,0.2,375,0,400,0,425,0.2,450,0.2,475,0.3,500,0.2,525,0,550,-0.2,580,-0.3],
 [0,3.0,10,0.5,25,0.3,50,0.2,100,0,150,0.2,200,0.3,250,0.1,285,-1.0,300,-0.5,325,-0.3,350,-0.2,400,0,450,0.2,500,0.3,550,0.2,580,0.1],
 [0,0.5,25,0,50,-0.5,75,-0.6,100,-0.2,125,0,150,0.3,175,0.5,200,0.5,225,0.3,250,0.1,275,0,300,0.3,325,0.6,340,0.8,375,0.3,400,0,425,0,450,-0.2,475,0,500,0.2,525,0.2,550,0,580,0.2],
 [0,0,25,0.3,50,0.2,75,0,100,0,125,0.2,150,0,175,0.1,200,0,225,0,250,0,275,0,300,-0.2,325,0,350,0,400,-0.1,450,0,500,0.1,550,0,580,0]];
const c_W = [
 [0,-1.2,10,0.3,25,0.3,50,0.5,75,0.8,100,1.0,125,1.2,150,1.2,175,1.3,200,1.5,225,2.5,245,3.5,260,4.0,275,3.5,290,2.0,300,0.5,325,-0.5,350,-1.2,375,-1.5,400,-1.3,425,-1.5,450,-1.0,475,-0.8,500,-1.0,525,-0.5,550,0,580,0],
 [0,1.0,25,0.3,50,0.4,75,0.5,100,0.5,125,0.8,150,1.0,175,1.2,200,1.0,225,0.8,250,0.8,275,0.5,300,0.3,325,0,350,-0.3,375,-0.2,400,0,425,-0.2,450,-0.3,475,0,500,0,525,0.2,550,0,580,-0.2],
 [0,0.5,25,0.3,50,0.3,75,0.5,100,0.5,125,0.8,150,1.0,175,1.2,200,1.8,225,3.0,240,4.0,255,3.5,270,3.0,290,1.5,300,0.5,325,0,340,-0.8,350,-0.5,375,-0.3,400,-0.5,425,-0.5,450,-0.8,475,-0.5,500,0,525,0.3,550,0,580,-0.3],
 [0,0,25,0.5,50,1.0,75,1.5,100,1.8,125,2.0,150,1.8,175,1.5,200,1.5,225,1.5,250,1.0,275,0.8,300,0.5,325,0,350,-0.5,375,-0.3,400,0.5,425,0.8,450,0.3,475,0,500,-0.2,525,0,550,0.2,580,0],
 [0,0.5,25,0.3,50,0.5,75,0.6,100,0.6,125,0.8,150,1.0,175,1.0,200,0.8,225,0.8,250,0.8,275,0.8,300,1.0,325,1.3,350,1.0,375,0.5,400,1.2,425,1.5,450,1.5,475,1.3,500,1.2,525,1.0,550,1.0,580,0.8],
 [0,0.3,25,0.3,50,0.3,75,0.2,100,0.3,125,0.2,150,0.3,175,0.5,200,0.5,225,0.8,250,1.0,275,1.0,300,0.8,325,0.8,350,1.0,375,0.8,400,0.5,425,0.6,450,0.8,475,0.8,500,0.8,525,0.8,550,0.8,580,0.8]];
const c_T = [
 [0,325,150,325,175,330,200,345,225,380,250,430,265,500,280,560,290,595,300,560,315,480,325,420,340,370,350,345,375,330,400,326,425,325,580,325],
 [0,325,175,325,200,330,225,345,250,360,275,370,300,370,325,365,350,355,375,350,400,345,425,340,450,335,475,330,500,328,525,326,550,325,580,325],
 [0,325,150,325,175,330,200,340,225,400,240,500,250,540,260,545,270,520,280,460,290,400,300,360,325,340,350,330,375,326,400,325,580,325],
 [0,325,225,325,250,330,275,335,300,345,325,370,350,420,370,440,385,440,400,420,425,370,450,340,475,330,500,326,525,325,580,325],
 [0,325,225,325,250,330,275,340,300,355,325,360,350,360,375,355,400,360,425,370,450,385,475,405,485,410,500,395,525,380,550,370,580,360],
 [0,325,250,325,300,328,350,330,400,332,450,335,500,345,525,355,550,362,580,368]];
const c_UT = [
 [0,0,200,0,225,2,250,5,260,40,275,30,290,-10,300,-30,310,-45,325,-40,340,-25,350,-15,375,-10,400,-5,425,0,580,0],
 [0,0,250,0,275,-5,300,-10,325,-20,350,-15,375,-10,400,-5,425,0,580,0],
 [0,0,175,0,200,5,215,20,225,0,230,-80,240,-90,250,-140,265,-150,275,-155,290,-100,300,-50,310,-40,325,-20,350,-10,375,-5,400,0,580,0],
 [0,0,275,0,300,-10,320,-40,330,-70,340,-60,350,-40,375,-20,400,-10,425,0,580,0],
 [0,0,350,0,375,-5,400,-5,425,-5,450,-10,475,-15,500,-15,525,-5,550,-5,580,-5],
 [0,0,580,0]];
const c_WT = [
 [0,0,215,0,225,30,240,100,250,150,265,120,280,150,290,130,300,100,325,60,340,30,350,10,375,0,580,0],
 [0,0,200,0,225,5,250,15,275,25,300,30,325,35,350,40,375,45,400,40,425,30,450,20,475,10,500,5,525,0,580,0],
 [0,0,215,0,225,100,235,300,250,330,270,430,275,440,290,300,300,200,325,120,340,80,350,50,375,20,400,5,425,0,580,0],
 [0,0,300,0,320,20,330,80,350,140,365,170,375,150,390,120,400,60,425,20,450,5,475,0,580,0],
 [0,0,300,0,325,5,350,20,375,40,400,60,425,50,450,80,470,120,480,130,500,110,525,90,550,70,580,50],
 [0,0,450,0,500,5,550,10,580,20]];
const c_WU = [
 [0,0.5,25,0,50,-0.2,75,-0.3,100,-0.3,125,-0.3,150,-0.5,175,-0.5,200,-0.6,225,-0.8,250,-1.0,275,-1.3,290,-2.0,300,-1.0,310,-1.5,325,-1.2,340,-1.0,350,-0.8,375,-0.5,400,-0.5,425,-0.5,450,-1.5,475,-2.2,490,-2.0,500,-1.0,525,-0.5,550,-0.4,580,-0.3],
 [0,0,25,-0.2,50,-0.1,75,0,100,-0.2,125,-0.4,150,-0.6,175,-0.5,200,-0.5,225,-0.6,250,-0.8,275,-1.0,290,-1.5,300,-2.0,315,-2.5,325,-2.8,340,-2.2,350,-1.8,375,-1.5,400,-1.0,425,-0.8,450,-0.5,475,-0.5,500,-0.8,525,-0.6,550,-0.6,580,-0.4],
 [0,0,25,-0.2,50,-0.3,75,-0.3,100,-0.3,125,-0.3,150,-0.4,175,-0.5,200,-0.6,215,-1.0,225,-2.5,240,-2.8,245,-2.0,255,-3.8,265,-4.6,275,-3.0,290,-2.0,300,-1.8,315,-1.0,325,-0.8,350,-0.6,375,-0.5,400,-0.5,425,-0.8,450,-0.5,475,-0.3,500,-0.3,525,-0.5,550,-0.8,580,-1.2],
 [0,-0.2,25,-0.5,50,-0.6,75,-0.5,100,-0.4,125,-0.3,150,-0.3,175,-0.4,200,-0.5,225,-0.5,250,-0.8,275,-1.0,300,-1.2,320,-1.5,330,-3.5,345,-3.7,355,-3.8,375,-3.5,390,-1.5,400,-0.8,425,-0.5,450,-0.3,475,-0.3,500,-0.3,525,-0.2,550,-0.2,580,-0.2],
 [0,0.2,25,0,50,0,75,0,100,0.1,125,-0.2,150,-0.3,175,-0.4,200,-0.5,225,-0.5,250,-0.5,275,-0.4,300,-0.5,325,-0.3,350,-0.3,375,-0.5,400,-0.8,425,-0.5,450,-0.3,475,-0.3,500,-0.5,525,-0.5,550,-0.4,580,-0.3],
 [0,0,25,-0.1,50,-0.2,75,-0.3,100,-0.3,125,-0.3,150,-0.3,175,-0.3,200,-0.4,225,-0.4,250,-0.5,275,-0.5,300,-0.6,325,-0.6,350,-0.5,375,-0.4,400,-0.3,425,-0.3,450,-0.2,475,-0.2,500,-0.2,525,-0.2,550,-0.2,580,-0.2]];
const c_US = [
 [0,0,10,0.7,25,0.5,50,0.6,75,0.6,100,0.7,125,0.6,150,0.7,175,0.8,200,1.1,225,1.0,250,0.8,275,0.9,300,1.4,325,1.5,350,1.3,375,1.0,400,0.8,425,0.8,450,1.2,475,1.5,500,1.4,525,1.0,550,0.8,580,0.7],
 [0,0.2,25,0.8,50,1.1,75,1.1,100,0.8,125,0.6,150,0.5,175,0.7,200,0.8,225,0.7,250,0.7,275,0.9,300,1.2,325,1.6,350,1.5,375,1.4,400,1.0,425,0.9,450,1.0,475,1.0,500,1.1,525,1.2,550,1.0,580,0.8],
 [0,0,10,0.6,25,0.5,50,0.5,75,0.6,100,0.6,125,0.5,150,0.5,175,0.6,200,0.6,215,0.8,225,2.2,240,2.6,265,2.5,275,1.5,300,1.3,325,1.2,350,1.1,375,0.9,400,1.1,425,1.2,450,1.0,475,0.8,500,0.8,525,0.6,550,0.8,580,1.2],
 [0,0.2,10,1.0,25,1.1,50,1.0,75,1.0,100,0.8,125,0.7,150,0.5,175,0.6,200,0.7,225,0.8,250,0.9,275,1.0,300,1.5,325,1.8,340,2.0,350,1.8,375,1.5,400,1.0,425,0.8,450,0.7,475,0.7,500,0.8,525,0.8,550,0.7,580,0.7],
 [0,0.2,25,0.5,50,0.6,75,0.7,100,0.6,125,0.6,150,0.6,175,0.7,200,0.8,225,1.1,250,1.2,275,1.3,300,1.2,325,1.1,350,1.0,375,0.8,400,0.8,425,0.7,450,0.5,475,0.8,500,0.7,525,0.7,550,0.7,580,0.7],
 [0,0.2,25,0.5,50,0.6,75,0.6,100,0.5,125,0.5,150,0.5,175,0.5,200,0.6,225,0.7,250,0.8,275,0.9,300,0.9,325,0.8,350,0.7,375,0.7,400,0.7,425,0.6,450,0.6,475,0.6,500,0.6,525,0.6,550,0.5,580,0.6]];
const c_UU = [
 [0,0,10,1.0,25,1.2,50,1.2,75,1.0,100,0.8,125,0.8,150,0.8,175,1.0,200,1.2,225,2.0,250,2.5,275,2.3,300,2.5,325,3.0,340,2.8,350,2.0,375,1.5,400,1.0,425,1.0,450,2.0,470,3.5,490,4.3,500,4.0,525,2.5,550,1.0,580,0.8],
 [0,0.2,25,0.5,50,0.6,75,0.8,100,0.8,125,1.0,150,1.3,175,1.3,200,1.5,225,1.5,250,2.0,275,2.5,300,3.0,325,3.2,350,2.5,375,2.0,400,1.5,425,1.2,450,1.0,475,1.2,500,1.3,525,1.0,550,0.9,580,0.8],
 [0,0.2,25,0.8,50,0.8,75,1.0,100,0.8,125,0.8,150,1.2,175,1.5,200,1.3,225,2.5,240,4.0,250,4.9,275,4.0,290,4.5,300,3.5,325,3.3,350,3.3,375,2.5,390,1.5,400,3.0,410,5.6,425,5.5,450,5.0,460,3.0,475,1.5,500,0.5,525,0.5,540,1.0,560,4.0,580,4.0],
 [0,0.3,25,1.5,50,1.8,75,1.6,100,1.2,125,1.0,150,1.0,175,1.0,200,1.0,225,1.5,250,2.0,275,2.5,300,2.8,330,3.5,350,3.2,375,3.0,400,2.0,425,1.2,450,1.0,475,0.8,500,0.8,525,0.8,550,0.8,580,0.8],
 [0,0.2,25,0.5,50,0.6,75,0.6,100,0.6,125,0.8,150,0.8,175,0.8,200,1.0,225,1.2,250,1.5,275,1.6,300,1.8,325,1.6,350,1.5,375,1.3,400,1.2,425,1.0,450,1.2,475,1.8,500,1.8,525,1.3,550,1.0,580,0.8],
 [0,0.2,25,0.5,50,0.6,75,0.5,100,0.5,125,0.6,150,0.6,175,0.7,200,0.8,225,0.8,250,1.0,275,1.0,300,1.2,325,1.2,350,1.0,375,0.8,400,0.8,425,0.6,450,0.6,475,0.5,500,0.6,525,0.7,550,0.8,580,0.8]];
const c_VV = [
 [0,0.5,25,1.0,50,1.5,75,1.5,100,1.5,125,1.5,150,1.5,175,1.5,200,1.5,225,2.0,250,2.5,275,2.5,290,4.0,300,4.5,325,4.0,350,3.5,375,3.0,400,2.5,425,2.0,450,1.5,475,1.2,500,1.0,525,0.8,550,0.8,580,0.7],
 [0,0.3,25,1.5,50,2.0,75,2.5,90,3.5,100,2.0,125,2.2,150,2.0,175,2.0,200,2.0,225,2.5,250,2.5,275,3.0,300,3.5,325,3.8,350,3.5,375,3.0,400,2.5,425,2.2,450,2.0,475,1.8,500,1.5,525,1.2,550,1.0,580,0.8],
 [0,0.3,25,1.0,50,1.5,75,1.5,100,2.0,125,3.0,150,4.5,175,4.0,200,2.0,215,1.5,225,11.0,250,11.8,270,11.5,280,6.0,300,3.0,325,3.5,350,3.5,375,3.0,400,2.5,425,2.0,450,1.5,475,1.0,500,1.0,525,0.8,550,1.2,580,4.0],
 [0,2.0,25,1.5,50,2.0,75,2.0,100,2.0,125,1.5,150,1.5,175,1.5,200,2.0,225,2.2,250,2.5,275,3.5,290,4.5,300,4.0,325,3.5,350,3.0,375,2.5,400,2.0,425,2.0,450,1.5,475,1.2,500,1.0,525,0.8,550,0.8,580,0.8],
 [0,0.5,25,1.0,50,1.2,75,1.5,100,1.5,125,1.2,150,1.2,175,1.5,200,1.5,225,2.0,250,3.0,275,3.0,300,2.5,325,2.2,350,2.0,375,2.0,400,2.0,425,2.0,450,2.0,475,1.8,500,2.0,525,2.0,550,2.0,580,2.0],
 [0,0.5,25,1.0,50,1.0,75,1.2,100,1.2,125,1.2,150,1.5,175,1.5,200,1.5,225,1.5,250,1.5,275,1.8,300,2.0,325,2.0,350,1.8,375,1.8,400,1.8,425,1.5,450,1.5,475,1.2,500,1.2,525,1.2,550,1.3,580,1.5]];
const c_WW = [
 [0,0.5,25,1.0,50,1.0,75,1.0,100,1.2,125,1.2,150,1.5,175,2.0,200,2.5,225,3.0,240,5.5,250,5.5,265,5.0,280,6.5,290,7.5,300,5.0,310,3.5,325,2.5,350,2.5,375,2.5,400,2.0,425,2.0,450,1.5,475,2.0,500,2.0,525,1.5,550,1.2,580,1.2],
 [0,0.5,25,1.0,50,1.2,75,1.5,100,2.0,125,2.0,150,2.0,175,2.0,200,2.0,225,2.0,250,3.0,275,4.0,300,5.0,325,6.5,340,6.0,350,6.0,375,5.5,400,5.0,425,4.5,440,3.0,450,2.0,475,1.5,500,1.5,525,1.5,550,1.5,580,1.5],
 [0,0.5,25,1.0,50,1.0,75,1.0,100,1.0,125,1.2,150,1.5,175,2.0,200,2.0,215,3.0,225,9.0,250,11.0,265,15.0,275,15.5,290,12.0,300,8.0,325,5.0,350,3.0,375,2.5,400,2.0,425,2.0,450,1.5,475,1.5,500,1.5,525,1.5,550,2.5,580,3.5],
 [0,1.0,25,1.2,50,1.2,75,1.2,100,1.2,125,1.2,150,1.5,175,1.8,200,2.0,225,2.5,250,3.0,275,3.5,300,4.0,325,5.0,340,10.0,360,10.5,375,9.0,390,5.0,400,3.0,425,2.5,450,2.5,475,2.0,500,2.0,525,1.8,550,1.5,580,1.5],
 [0,0.5,25,1.0,50,1.5,75,1.5,100,1.5,125,1.5,150,1.5,175,1.5,200,1.5,225,2.0,250,3.5,275,3.5,300,2.5,325,2.5,350,2.5,375,2.0,400,2.5,425,3.0,450,7.0,460,8.5,475,7.5,500,6.0,525,5.0,550,4.0,580,3.0],
 [0,0.5,25,1.0,50,1.0,75,1.0,100,1.0,125,1.0,150,1.0,175,1.2,200,1.5,225,2.0,250,2.5,275,3.0,300,2.5,325,2.0,350,1.8,375,1.5,400,1.5,425,1.5,450,1.5,475,1.5,500,1.5,525,1.5,550,1.5,580,2.0]];
const c_TKE = [
 [0,1.0,25,2.0,50,2.0,75,2.0,100,2.0,125,2.0,150,2.5,175,2.5,200,2.5,225,3.5,240,5.0,250,6.0,265,5.5,280,6.5,290,7.5,300,6.0,325,4.5,350,3.5,375,3.0,400,2.5,425,2.5,450,3.0,475,3.0,500,3.0,525,2.5,550,2.0,580,1.5],
 [0,0.5,25,1.5,50,2.0,75,2.5,90,3.0,100,2.5,125,2.5,150,2.5,175,2.5,200,2.5,225,3.0,250,3.5,275,4.0,300,5.0,325,5.5,350,5.5,375,5.0,400,4.5,425,4.0,450,3.0,475,2.5,500,2.5,525,2.0,550,2.0,580,1.8],
 [0,0.5,25,1.5,50,1.5,75,1.5,100,2.0,125,2.0,150,2.5,175,2.5,200,2.5,215,3.0,225,10.0,240,11.0,255,14.0,265,15.5,275,14.0,290,10.0,300,8.0,325,6.0,350,4.5,375,3.5,400,3.0,425,2.5,450,2.0,475,2.0,500,2.0,525,2.0,550,3.0,580,5.5],
 [0,2.0,25,2.0,50,2.5,75,2.5,100,2.2,125,2.0,150,2.0,175,2.0,200,2.5,225,2.8,250,3.5,275,4.0,300,5.0,325,6.0,350,8.0,365,8.5,375,7.0,400,5.0,425,3.5,450,3.0,475,2.5,500,2.5,525,2.0,550,1.8,580,1.5],
 [0,1.0,25,1.5,50,2.0,75,2.0,100,2.0,125,2.0,150,2.0,175,2.2,200,2.5,225,3.0,250,4.5,275,5.0,300,4.5,325,4.0,350,4.0,375,3.5,400,3.5,425,4.0,450,5.0,465,6.0,475,5.5,500,5.0,525,4.5,550,3.5,580,3.0],
 [0,1.0,25,1.5,50,1.5,75,1.8,100,1.8,125,1.8,150,2.0,175,2.0,200,2.2,225,2.5,250,3.0,275,3.5,300,3.0,325,2.5,350,2.5,375,2.5,400,2.5,425,2.5,450,2.2,475,2.0,500,2.0,525,2.0,550,2.0,580,2.5]];

// ---------- y domains and y tick values (panel order: U V W / θ u'θ' w'θ' / w'u' u* u'u' / v'v' w'w' TKE)
const a_dom = [[-1,10],[-3.3,1.85],[-0.82,2],[300,503],[-121,119],[-5,275],[-2,2],[0,2],[0,10.25],[0,10.3],[0,5.1],[0,10.6]];
const a_ticks = [[0,5,10],[-3,-2,-1,0,1],[0,1,2],[300,400,500],[-100,0,100],[0,100,200],[-2,0,2],[0,1,2],[0,5,10],[0,5,10],[0,5],[0,5,10]];
const b_dom = [[-0.7,7.2],[-2.75,1.17],[-1.1,3.2],[300,438],[-65,62],[-10,250],[-1.86,3.95],[0,2.05],[0,10.25],[0,12.3],[0,13.2],[0,14]];
const b_ticks = [[0,2,4,6],[-2,-1,0,1],[-1,0,1,2,3],[300,350,400],[-50,0,50],[0,100,200],[0,2,4],[0,1,2],[0,5,10],[0,5,10],[0,5,10],[0,5,10]];
const c_dom = [[-0.2,5.4],[-2.4,5],[-1.65,4.2],[322,608],[-200,42],[-8,441],[-4.7,0.65],[-0.08,2.7],[0,5.75],[0,11.9],[0,15.9],[0,15.8]];
const c_ticks = [[0,2,4],[-2,0,2,4],[0,2,4],[400,500,600],[-200,-100,0],[0,200,400],[-4,-2,0],[0,1,2],[0,5],[0,5,10],[0,10],[0,10]];

const groups = [
  {data:[a_U,a_V,a_W,a_T,a_UT,a_WT,a_WU,a_US,a_UU,a_VV,a_WW,a_TKE], dom:a_dom, ticks:a_ticks},
  {data:[b_U,b_V,b_W,b_T,b_UT,b_WT,b_WU,b_US,b_UU,b_VV,b_WW,b_TKE], dom:b_dom, ticks:b_ticks},
  {data:[c_U,c_V,c_W,c_T,c_UT,c_WT,c_WU,c_US,c_UU,c_VV,c_WW,c_TKE], dom:c_dom, ticks:c_ticks}
];

// ---------- layout (pixels)
const colLeft = [77, 302, 527];
const rowTop = [[29,117.5,207,296.7],[429,518.3,607.3,697.7],[827.3,917.3,1007.3,1097]];
const FW = 172, FH = 54, ML = 44, MR = 6, MT = 6, MB = 30;
const grpLabelY = [[31,62],[410,445],[804,828]];
const legendTextX = [64,149,268,382,483,612];

const root = document.getElementById("root");
const NS = "http://www.w3.org/2000/svg";
const measureCtx = document.createElement("canvas").getContext("2d");
measureCtx.font = "10px 'Liberation Sans', Arial, sans-serif";

function richLabel(el, s) {
  while (el.firstChild) el.removeChild(el.firstChild);
  let over = false, i = 0;
  const add = (txt, kind) => {
    const t = document.createElementNS(NS, "tspan");
    t.textContent = txt;
    if (over) t.setAttribute("text-decoration", "overline");
    if (kind) { t.setAttribute("baseline-shift", kind); t.setAttribute("font-size", "7.5"); }
    el.appendChild(t);
  };
  while (i < s.length) {
    const c = s[i];
    if (c === "[") { over = true; i++; continue; }
    if (c === "]") { over = false; i++; continue; }
    if (c === "^" || c === "_") {
      let txt;
      if (s[i+1] === "{") { const j = s.indexOf("}", i); txt = s.slice(i+2, j); i = j + 1; }
      else { txt = s[i+1]; i += 2; }
      add(txt.replace("-", "\u2212"), c === "^" ? "super" : "sub");
      continue;
    }
    add(c === "'" ? "\u2032" : c, null);
    i++;
  }
}

function makePanel(series, dom, yt, lab, showTime) {
  const maxW = Math.max(...yt.map(v => measureCtx.measureText(String(v)).width));
  const labelDx = -(3 + maxW + 6.5);
  const marks = [
    Plot.tickX(xTicks, {x: d => d, insetTop: FH - 2.5, stroke: "#777", strokeWidth: 0.6}),
    Plot.tickX(xTicks, {x: d => d, insetBottom: FH - 2.5, stroke: "#777", strokeWidth: 0.6}),
    Plot.tickY(yt, {y: d => d, insetRight: FW - 2.5, stroke: "#777", strokeWidth: 0.6}),
    Plot.tickY(yt, {y: d => d, insetLeft: FW - 2.5, stroke: "#777", strokeWidth: 0.6})
  ];
  series.forEach((arr, i) => {
    const pts = [];
    for (let k = 0; k < arr.length; k += 2) pts.push({t: arr[k], v: arr[k + 1]});
    const opts = {x: "t", y: "v", stroke: seriesColors[i], strokeWidth: 0.9, clip: true};
    if (seriesDash[i]) opts.strokeDasharray = seriesDash[i];
    marks.push(Plot.line(pts, opts));
  });
  marks.push(Plot.frame({stroke: "#8f8f8f", strokeWidth: 0.8}));
  marks.push(Plot.text([lab], {text: d => d, frameAnchor: "left", rotate: -90, dx: labelDx, fontFamily: "Liberation Serif, 'DejaVu Serif', serif", fontStyle: "italic", fontSize: 10.5, fill: "#262626"}));
  if (showTime) marks.push(Plot.text(["time (s)"], {text: d => d, frameAnchor: "bottom", dy: 21, fontSize: 10, fill: "#262626"}));
  const svg = Plot.plot({
    width: ML + FW + MR, height: MT + FH + MB,
    marginLeft: ML, marginRight: MR, marginTop: MT, marginBottom: MB,
    style: {fontFamily: "'Liberation Sans', Arial, sans-serif", fontSize: "10px", color: "#262626", background: "transparent", overflow: "visible"},
    x: {domain: [0, 580], ticks: xTicks, tickSize: 0, tickPadding: 3, label: null, tickFormat: d => String(d)},
    y: {domain: dom, ticks: yt, tickSize: 0, tickPadding: 3, label: null, tickFormat: d => String(d)},
    marks
  });
  Array.from(svg.querySelectorAll("text")).filter(t => t.textContent === lab).forEach(t => richLabel(t, lab));
  return svg;
}

groups.forEach((g, gi) => {
  g.data.forEach((series, k) => {
    const row = Math.floor(k / 3), col = k % 3;
    const showTime = row === 3 || (row === 2 && col === 2);
    const div = document.createElement("div");
    div.className = "panel";
    div.style.left = (colLeft[col] - ML) + "px";
    div.style.top = (rowTop[gi][row] - MT) + "px";
    div.appendChild(makePanel(series, g.dom[k], g.ticks[k], varLabels[k], showTime));
    root.appendChild(div);
  });
  const l1 = document.createElement("div");
  l1.className = "grp"; l1.textContent = groupLetters[gi]; l1.style.top = grpLabelY[gi][0] + "px";
  const l2 = document.createElement("div");
  l2.className = "grp"; l2.textContent = groupHeights[gi]; l2.style.top = grpLabelY[gi][1] + "px";
  root.appendChild(l1); root.appendChild(l2);
});

// legend
const leg = document.createElement("div");
leg.id = "legend";
root.appendChild(leg);
seriesNames.forEach((name, i) => {
  const it = document.createElement("div");
  it.className = "li";
  it.style.left = (legendTextX[i] - 45) + "px";
  const s = document.createElementNS(NS, "svg");
  s.setAttribute("width", 17); s.setAttribute("height", 17);
  const ln = document.createElementNS(NS, "line");
  ln.setAttribute("x1", 0); ln.setAttribute("x2", 16); ln.setAttribute("y1", 8.5); ln.setAttribute("y2", 8.5);
  ln.setAttribute("stroke", seriesColors[i]); ln.setAttribute("stroke-width", 1);
  if (seriesDash[i]) ln.setAttribute("stroke-dasharray", seriesDash[i]);
  s.appendChild(ln);
  it.appendChild(s);
  it.appendChild(document.createTextNode(name));
  leg.appendChild(it);
});
</script></body></html>
